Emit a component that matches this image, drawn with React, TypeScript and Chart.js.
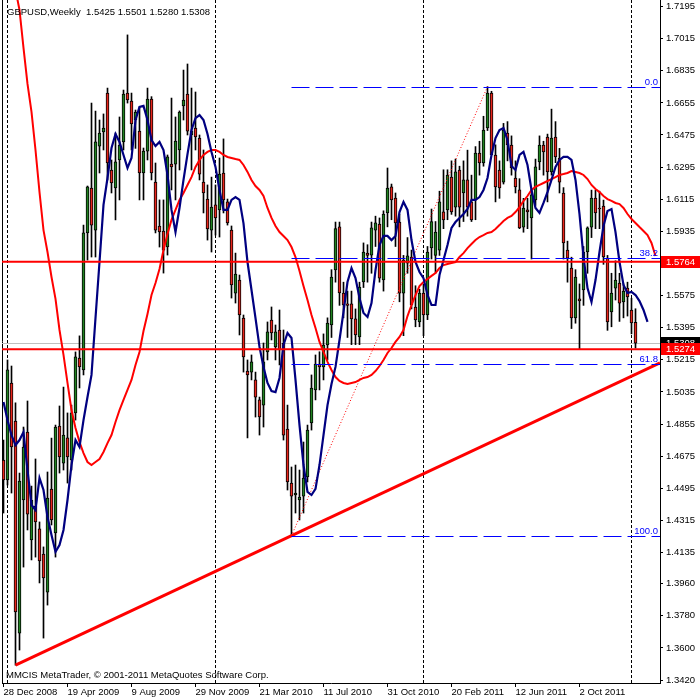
import React, { useEffect, useRef } from 'react';
import { Chart, registerables } from 'chart.js';

Chart.register(...registerables);

// ---- weekly GBPUSD candles, first bar = week of 28 Dec 2008 ----
const opens = [
  1.4653, 1.4541, 1.5085, 1.4872, 1.3683, 1.4429, 1.4810, 1.4205, 1.4395, 1.4267,
  1.4126, 1.3913, 1.4490, 1.4244, 1.4844, 1.4636, 1.4777, 1.4653, 1.4917, 1.5225,
  1.5158, 1.5926, 1.6178, 1.5942, 1.6413, 1.6492, 1.6710, 1.6279, 1.6178, 1.6335,
  1.6436, 1.6710, 1.6665, 1.6560, 1.6497, 1.6262, 1.6385, 1.6677, 1.6211, 1.5965,
  1.5937, 1.5847, 1.6312, 1.6312, 1.6391, 1.6638, 1.6705, 1.6475, 1.6514, 1.6458,
  1.6211, 1.6116, 1.5942, 1.6083, 1.6055, 1.6262, 1.6100, 1.5942, 1.5589, 1.5662,
  1.5449, 1.5152, 1.5146, 1.5102, 1.4990, 1.4961, 1.5259, 1.5438, 1.5287, 1.5382,
  1.5309, 1.4827, 1.4524, 1.4457, 1.4429, 1.4451, 1.4558, 1.4861, 1.5046, 1.5191,
  1.5175, 1.5298, 1.5410, 1.5718, 1.5960, 1.5589, 1.5528, 1.5528, 1.5444, 1.5343,
  1.5651, 1.5813, 1.5802, 1.5942, 1.5976, 1.5662, 1.6038, 1.6184, 1.6122, 1.5987,
  1.5589, 1.5757, 1.5791, 1.5511, 1.5427, 1.5589, 1.5466, 1.5842, 1.5800, 1.5830,
  1.6044, 1.6055, 1.6239, 1.6071, 1.6279, 1.6150, 1.6223, 1.6100, 1.6111, 1.6374,
  1.6318, 1.6514, 1.6710, 1.6363, 1.6279, 1.6211, 1.6486, 1.6419, 1.6234, 1.6167,
  1.5959, 1.6055, 1.6010, 1.6111, 1.6324, 1.6419, 1.6464, 1.6268, 1.6464, 1.6346,
  1.6150, 1.5830, 1.5729, 1.5449, 1.5556, 1.5606, 1.5819, 1.5959, 1.6122, 1.6066,
  1.6077, 1.5785, 1.5483, 1.5617, 1.5645, 1.5539, 1.5617, 1.5494, 1.5425,
];
const highs = [
  1.4765, 1.5214, 1.5180, 1.4973, 1.4580, 1.4838, 1.4984, 1.4507, 1.4659, 1.4306,
  1.4166, 1.4586, 1.4776, 1.4849, 1.4956, 1.5062, 1.4917, 1.4961, 1.5259, 1.5349,
  1.5970, 1.6189, 1.6654, 1.6609, 1.6559, 1.6593, 1.6738, 1.6335, 1.6486, 1.6576,
  1.6727, 1.7036, 1.6710, 1.6615, 1.6632, 1.6402, 1.6738, 1.6690, 1.6318, 1.6111,
  1.6111, 1.6363, 1.6682, 1.6576, 1.6610, 1.6839, 1.6873, 1.6738, 1.6716, 1.6475,
  1.6391, 1.6195, 1.6239, 1.6195, 1.6346, 1.6453, 1.6116, 1.5965, 1.5813, 1.5690,
  1.5466, 1.5214, 1.5242, 1.5146, 1.5006, 1.5309, 1.5427, 1.5511, 1.5410, 1.5494,
  1.5382, 1.4961, 1.4614, 1.4625, 1.4597, 1.4754, 1.4849, 1.5130, 1.5242, 1.5260,
  1.5360, 1.5450, 1.5720, 1.5987, 1.5987, 1.5650, 1.5600, 1.5600, 1.5500, 1.5650,
  1.5870, 1.5860, 1.5987, 1.6020, 1.6010, 1.6050, 1.6290, 1.6200, 1.6150, 1.6030,
  1.5800, 1.5900, 1.5830, 1.5630, 1.5610, 1.5640, 1.5850, 1.6060, 1.5990, 1.6160,
  1.6280, 1.6280, 1.6330, 1.6340, 1.6300, 1.6330, 1.6390, 1.6250, 1.6410, 1.6440,
  1.6580, 1.6746, 1.6720, 1.6420, 1.6330, 1.6540, 1.6550, 1.6470, 1.6330, 1.6230,
  1.6120, 1.6120, 1.6170, 1.6340, 1.6470, 1.6440, 1.6480, 1.6620, 1.6550, 1.6400,
  1.6180, 1.5880, 1.5790, 1.5720, 1.5640, 1.5850, 1.5960, 1.6166, 1.6166, 1.6160,
  1.6110, 1.5800, 1.5700, 1.5770, 1.5700, 1.5640, 1.5650, 1.5560, 1.5501,
];
const lows = [
  1.4356, 1.4513, 1.4468, 1.3503, 1.3588, 1.4053, 1.4261, 1.4093, 1.4109, 1.3964,
  1.3655, 1.3840, 1.4289, 1.4109, 1.4580, 1.4597, 1.4524, 1.4597, 1.4877, 1.5057,
  1.5130, 1.5774, 1.5791, 1.5791, 1.6262, 1.6391, 1.6223, 1.6150, 1.5999, 1.6111,
  1.6391, 1.6654, 1.6391, 1.6400, 1.6111, 1.6111, 1.6335, 1.6223, 1.5926, 1.5847,
  1.5701, 1.5802, 1.6167, 1.6111, 1.6279, 1.6559, 1.6475, 1.6279, 1.6391, 1.6223,
  1.6038, 1.5886, 1.5819, 1.5914, 1.5903, 1.6038, 1.5970, 1.5561, 1.5533, 1.5354,
  1.5146, 1.4777, 1.5102, 1.4894, 1.4793, 1.4838, 1.5214, 1.5326, 1.5214, 1.5186,
  1.4765, 1.4485, 1.4229, 1.4356, 1.4317, 1.4356, 1.4530, 1.4821, 1.4990, 1.5046,
  1.5102, 1.5214, 1.5340, 1.5650, 1.5520, 1.5450, 1.5340, 1.5300, 1.5300, 1.5300,
  1.5620, 1.5650, 1.5700, 1.5850, 1.5650, 1.5600, 1.5960, 1.6000, 1.5850, 1.5540,
  1.5350, 1.5700, 1.5500, 1.5400, 1.5400, 1.5350, 1.5440, 1.5780, 1.5700, 1.5800,
  1.5950, 1.6000, 1.6030, 1.6020, 1.5960, 1.5990, 1.6020, 1.5990, 1.6000, 1.6250,
  1.6300, 1.6500, 1.6380, 1.6100, 1.6120, 1.6200, 1.6330, 1.6250, 1.6150, 1.5950,
  1.5930, 1.5950, 1.5780, 1.6080, 1.6280, 1.6250, 1.6100, 1.6250, 1.6320, 1.6150,
  1.5780, 1.5650, 1.5390, 1.5420, 1.5272, 1.5520, 1.5700, 1.5900, 1.5950, 1.5950,
  1.5750, 1.5380, 1.5400, 1.5550, 1.5430, 1.5450, 1.5460, 1.5360, 1.5280,
];
const closes = [
  1.4541, 1.5158, 1.4726, 1.3801, 1.4535, 1.4726, 1.4350, 1.4429, 1.4306, 1.4087,
  1.3992, 1.4440, 1.4317, 1.4838, 1.4670, 1.4793, 1.4670, 1.4917, 1.5231, 1.5175,
  1.5926, 1.6184, 1.5970, 1.6436, 1.6486, 1.6514, 1.6318, 1.6206, 1.6324, 1.6419,
  1.6705, 1.6671, 1.6537, 1.6604, 1.6262, 1.6385, 1.6677, 1.6262, 1.5942, 1.5931,
  1.5830, 1.6352, 1.6296, 1.6441, 1.6604, 1.6671, 1.6497, 1.6497, 1.6464, 1.6256,
  1.6150, 1.5948, 1.6071, 1.6010, 1.6256, 1.6111, 1.5982, 1.5634, 1.5696, 1.5466,
  1.5231, 1.5130, 1.5203, 1.5006, 1.4894, 1.5203, 1.5371, 1.5365, 1.5371, 1.5270,
  1.4793, 1.4530, 1.4451, 1.4468, 1.4446, 1.4552, 1.4821, 1.5057, 1.5191, 1.5175,
  1.5298, 1.5421, 1.5679, 1.5950, 1.5590, 1.5522, 1.5520, 1.5444, 1.5354, 1.5623,
  1.5819, 1.5800, 1.5954, 1.5982, 1.5673, 1.6032, 1.6178, 1.6111, 1.5982, 1.5589,
  1.5774, 1.5797, 1.5522, 1.5438, 1.5589, 1.5466, 1.5819, 1.5990, 1.5931, 1.6100,
  1.5999, 1.6251, 1.6044, 1.6268, 1.6071, 1.6223, 1.6071, 1.5999, 1.6374, 1.6318,
  1.6503, 1.6710, 1.6363, 1.6184, 1.6178, 1.6503, 1.6419, 1.6290, 1.6184, 1.5954,
  1.6066, 1.6044, 1.6139, 1.6296, 1.6419, 1.6380, 1.6268, 1.6458, 1.6352, 1.6211,
  1.5870, 1.5785, 1.5449, 1.5679, 1.5545, 1.5819, 1.5954, 1.6122, 1.6038, 1.6060,
  1.5791, 1.5427, 1.5589, 1.5662, 1.5533, 1.5600, 1.5567, 1.5421, 1.5308,
];

// ---- moving averages (values read per bar) ----
const fastMaStartBar = 0;
const fastMa = [
  1.4978, 1.4877, 1.4793, 1.4737, 1.4765, 1.4810, 1.4597, 1.4401, 1.4373, 1.4552,
  1.4485, 1.4334, 1.4233, 1.4138, 1.4177, 1.4261, 1.4429, 1.4625, 1.4765, 1.4726,
  1.4877, 1.5006, 1.5130, 1.5449, 1.5763, 1.6083, 1.6234, 1.6402, 1.6481, 1.6436,
  1.6363, 1.6290, 1.6346, 1.6559, 1.6632, 1.6638, 1.6559, 1.6447, 1.6413, 1.6436,
  1.6391, 1.6251, 1.6055, 1.5931, 1.6066, 1.6223, 1.6368, 1.6503, 1.6570, 1.6587,
  1.6559, 1.6481, 1.6380, 1.6296, 1.6167, 1.6055, 1.6055, 1.6111, 1.6127, 1.6111,
  1.5980, 1.5763, 1.5606, 1.5449, 1.5287, 1.5175, 1.5085, 1.5040, 1.5034, 1.5113,
  1.5298, 1.5365, 1.5337, 1.5102, 1.4849, 1.4625, 1.4474, 1.4457, 1.4491, 1.4625,
  1.4793, 1.4961, 1.5079, 1.5175, 1.5326, 1.5483, 1.5651, 1.5729, 1.5673, 1.5561,
  1.5477, 1.5455, 1.5533, 1.5718, 1.5858, 1.5909, 1.5909, 1.5886, 1.5909, 1.6043,
  1.6100, 1.6055, 1.5886, 1.5763, 1.5707, 1.5673, 1.5578, 1.5522, 1.5522, 1.5690,
  1.5774, 1.5858, 1.5954, 1.5987, 1.6010, 1.6032, 1.6060, 1.6111, 1.6111, 1.6127,
  1.6167, 1.6234, 1.6363, 1.6458, 1.6503, 1.6514, 1.6447, 1.6301, 1.6279, 1.6363,
  1.6380, 1.6307, 1.6167, 1.6066, 1.6038, 1.6094, 1.6155, 1.6223, 1.6296, 1.6335,
  1.6352, 1.6352, 1.6335, 1.6223, 1.6032, 1.5791, 1.5617, 1.5539, 1.5662, 1.5819,
  1.5965, 1.6049, 1.6060, 1.5931, 1.5763, 1.5634, 1.5589, 1.5595, 1.5578, 1.5544,
  1.5494, 1.5427,
];
const slowMaStartBar = 3;
const slowMa = [
  1.7290, 1.7176, 1.6963, 1.6761, 1.6604, 1.6391, 1.6155, 1.5942, 1.5819, 1.5679,
  1.5556, 1.5382, 1.5242, 1.5085, 1.4933, 1.4833, 1.4754, 1.4692, 1.4642, 1.4625,
  1.4642, 1.4659, 1.4698, 1.4748, 1.4793, 1.4866, 1.4933, 1.4990, 1.5046, 1.5102,
  1.5186, 1.5259, 1.5376, 1.5472, 1.5578, 1.5645, 1.5724, 1.5830, 1.5920, 1.5999,
  1.6055, 1.6111, 1.6150, 1.6195, 1.6239, 1.6296, 1.6335, 1.6363, 1.6380, 1.6391,
  1.6391, 1.6380, 1.6363, 1.6352, 1.6346, 1.6340, 1.6335, 1.6307, 1.6268, 1.6223,
  1.6189, 1.6167, 1.6133, 1.6066, 1.6010, 1.5965, 1.5931, 1.5909, 1.5886, 1.5847,
  1.5791, 1.5713, 1.5628, 1.5550, 1.5466, 1.5393, 1.5315, 1.5259, 1.5203, 1.5158,
  1.5118, 1.5096, 1.5085, 1.5079, 1.5085, 1.5090, 1.5102, 1.5113, 1.5118, 1.5130,
  1.5152, 1.5180, 1.5214, 1.5253, 1.5281, 1.5315, 1.5343, 1.5382, 1.5460, 1.5522,
  1.5578, 1.5628, 1.5651, 1.5668, 1.5685, 1.5701, 1.5729, 1.5746, 1.5752, 1.5757,
  1.5763, 1.5791, 1.5813, 1.5841, 1.5864, 1.5886, 1.5903, 1.5914, 1.5926, 1.5931,
  1.5948, 1.5970, 1.5993, 1.6010, 1.6021, 1.6043, 1.6071, 1.6105, 1.6133, 1.6167,
  1.6184, 1.6195, 1.6206, 1.6217, 1.6228, 1.6239, 1.6251, 1.6256, 1.6262, 1.6273,
  1.6268, 1.6262, 1.6251, 1.6228, 1.6195, 1.6172, 1.6155, 1.6133, 1.6116, 1.6106,
  1.6094, 1.6088, 1.6066, 1.6032, 1.6004, 1.5982, 1.5959, 1.5937, 1.5914, 1.5870,
  1.5797,
];

// ---- axes ----
const xTickBars = [0, 16, 32, 48, 64, 80, 96, 112, 128, 144];
const xTickLabels = [
  '28 Dec 2008', '19 Apr 2009', '9 Aug 2009', '29 Nov 2009', '21 Mar 2010',
  '11 Jul 2010', '31 Oct 2010', '20 Feb 2011', '12 Jun 2011', '2 Oct 2011',
];
const yTickValues = [
  1.3420, 1.3600, 1.3780, 1.3960, 1.4135, 1.4315, 1.4495, 1.4675, 1.4855, 1.5035,
  1.5215, 1.5395, 1.5575, 1.5755, 1.5935, 1.6115, 1.6295, 1.6475, 1.6655, 1.6835,
  1.7015, 1.7195,
];
const yearStartBars = [1, 53, 105, 157];

// ---- objects ----
const hLevels = [1.5764, 1.5274];
const bidPrice = 1.5308;
const trendBars = [3, 72];
const trendPrices = [1.3503, 1.4229];
const fibBars = [72, 121];
const fibPrices = [1.4229, 1.6746];
const fibLevels = [0, 38.2, 61.8, 100];
const headerSymbol = 'GBPUSD,Weekly';
const headerOhlc = '1.5425 1.5501 1.5280 1.5308';
const copyright = 'MMCIS MetaTrader, \u00a9 2001-2011 MetaQuotes Software Corp.';

const X_MIN = -0.375;
const X_MAX = 164.125;
const Y_MIN = 1.34032;
const Y_MAX = 1.72317;

const FONT = 'Liberation Sans, Arial, sans-serif';
const FONT_SIZE = 9.5;
const GREEN = '#218321';
const RED = '#e8261c';

const fibPrice = (lvl: number) => fibPrices[1] - (lvl / 100) * (fibPrices[1] - fibPrices[0]);

const overlayPlugin = {
  id: 'mtOverlay',
  beforeDatasetsDraw(chart: any) {
    const { ctx, chartArea, scales } = chart;
    const xs = scales.x;
    const ys = scales.y;
    ctx.save();
    ctx.strokeStyle = '#000';
    ctx.lineWidth = 1;
    ctx.setLineDash([3, 2]);
    yearStartBars.forEach((b) => {
      const x = Math.round(xs.getPixelForValue(b) - 0.5) + 0.5;
      ctx.beginPath();
      ctx.moveTo(x, chartArea.top);
      ctx.lineTo(x, chartArea.bottom);
      ctx.stroke();
    });
    ctx.setLineDash([]);
    ctx.beginPath();
    ctx.moveTo(chartArea.left + 0.5, chartArea.top);
    ctx.lineTo(chartArea.left + 0.5, chartArea.bottom);
    ctx.stroke();
    // bid line (crisp, light grey)
    const yb = Math.round(ys.getPixelForValue(bidPrice)) + 0.5;
    ctx.strokeStyle = '#c0c0c0';
    ctx.beginPath();
    ctx.moveTo(chartArea.left, yb);
    ctx.lineTo(chartArea.right, yb);
    ctx.stroke();
    ctx.restore();
  },
  afterDatasetsDraw(chart: any) {
    const { ctx, chartArea, scales } = chart;
    const xs = scales.x;
    const ys = scales.y;
    ctx.save();
    // fibonacci level lines (crisp 1px dashed blue)
    ctx.strokeStyle = '#0000ff';
    ctx.lineWidth = 1;
    ctx.setLineDash([18, 6]);
    const x0 = xs.getPixelForValue(fibBars[0]);
    fibLevels.forEach((l) => {
      const y = Math.round(ys.getPixelForValue(fibPrice(l))) + 0.5;
      ctx.beginPath();
      ctx.moveTo(x0, y);
      ctx.lineTo(chartArea.right, y);
      ctx.stroke();
    });
    ctx.restore();
  },
  afterDraw(chart: any) {
    const { ctx, chartArea, scales } = chart;
    const ys = scales.y;
    ctx.save();
    ctx.font = `${FONT_SIZE}px ${FONT}`;
    // fib level labels
    ctx.fillStyle = '#0000ff';
    ctx.textAlign = 'right';
    ctx.textBaseline = 'alphabetic';
    fibLevels.forEach((l) => {
      const y = Math.round(ys.getPixelForValue(fibPrice(l)));
      ctx.fillText(l.toFixed(1), chartArea.right - 2, y - 2);
    });
    // price boxes on axis
    const box = (price: number, bg: string) => {
      const y = ys.getPixelForValue(price);
      ctx.fillStyle = bg;
      ctx.fillRect(chartArea.right + 1, Math.round(y - 6), 700 - chartArea.right - 1, 12);
      ctx.fillStyle = '#fff';
      ctx.textAlign = 'left';
      ctx.textBaseline = 'middle';
      ctx.fillText(price.toFixed(4), chartArea.right + 6, y + 0.5);
    };
    box(bidPrice, '#000');
    hLevels.forEach((p) => box(p, '#ff0000'));
    // texts
    ctx.fillStyle = '#000';
    ctx.textAlign = 'left';
    ctx.textBaseline = 'alphabetic';
    ctx.fillText(headerSymbol, 7, 15);
    ctx.fillText(headerOhlc, 86, 15);
    ctx.fillText(copyright, 6, 678);
    ctx.restore();
  },
};

export default function App() {
  const ref = useRef<HTMLCanvasElement | null>(null);

  useEffect(() => {
    if (!ref.current) return;
    const idx = opens.map((_, i) => i);
    const slope = (trendPrices[1] - trendPrices[0]) / (trendBars[1] - trendBars[0]);
    const trendEnd = trendPrices[0] + slope * (X_MAX - trendBars[0]);

    const lineBase = { type: 'line', pointRadius: 0, tension: 0, fill: false };
    const datasets: any[] = [
      {
        type: 'bar',
        label: 'wicks',
        data: idx.map((i) => ({ x: i, y: [lows[i], highs[i]] })),
        backgroundColor: '#000',
        borderWidth: 0,
        barThickness: 1,
        maxBarThickness: 1,
        grouped: false,
        order: 11,
      },
      {
        type: 'bar',
        label: 'bodies',
        data: idx.map((i) => ({ x: i, y: [opens[i], closes[i]] })),
        backgroundColor: idx.map((i) => (closes[i] >= opens[i] ? GREEN : RED)),
        borderColor: '#000',
        borderWidth: 1,
        borderSkipped: false,
        barThickness: 3,
        maxBarThickness: 3,
        minBarLength: 1,
        grouped: false,
        order: 10,
      },
      {
        ...lineBase,
        label: 'fib diagonal',
        data: fibBars.map((b, k) => ({ x: b, y: fibPrices[k] })),
        borderColor: '#ff0000',
        borderWidth: 1,
        borderDash: [1, 2],
        order: 5,
      },
      {
        ...lineBase,
        label: 'slow ma',
        data: slowMa.map((v, k) => ({ x: slowMaStartBar + k, y: v })),
        borderColor: '#ff0000',
        borderWidth: 2,
        order: 4,
      },
      {
        ...lineBase,
        label: 'fast ma',
        data: fastMa.map((v, k) => ({ x: fastMaStartBar + k, y: v })),
        borderColor: '#000080',
        borderWidth: 2.2,
        order: 3,
      },
      ...hLevels.map((p) => ({
        ...lineBase,
        label: 'level ' + p,
        data: [{ x: X_MIN, y: p }, { x: X_MAX, y: p }],
        borderColor: '#ff0000',
        borderWidth: 2,
        order: 2,
      })),
      {
        ...lineBase,
        label: 'trend',
        data: [{ x: trendBars[0], y: trendPrices[0] }, { x: X_MAX, y: trendEnd }],
        borderColor: '#ff0000',
        borderWidth: 3,
        order: 1,
      },
    ];

    const chart = new Chart(ref.current, {
      type: 'bar',
      data: { datasets },
      plugins: [overlayPlugin],
      options: {
        animation: false,
        responsive: true,
        maintainAspectRatio: false,
        events: [],
        layout: { padding: { left: 2, top: 0, right: 0, bottom: 0 } },
        plugins: { legend: { display: false }, tooltip: { enabled: false } },
        scales: {
          x: {
            type: 'linear',
            position: 'bottom',
            min: X_MIN,
            max: X_MAX,
            offset: false,
            afterBuildTicks: (s: any) => {
              s.ticks = xTickBars.map((v) => ({ value: v }));
            },
            afterFit: (s: any) => {
              s.height = 17;
              s.paddingLeft = 0;
              s.paddingRight = 0;
            },
            ticks: {
              autoSkip: false,
              maxRotation: 0,
              minRotation: 0,
              align: 'start',
              padding: 0,
              color: '#000',
              font: { family: FONT, size: FONT_SIZE },
              callback: (v: any) => {
                const k = xTickBars.indexOf(Number(v));
                return k >= 0 ? xTickLabels[k] : '';
              },
            },
            grid: { drawOnChartArea: false, drawTicks: true, tickLength: 4, tickColor: '#000', color: '#000', offset: false },
            border: { display: true, color: '#000', width: 1 },
          },
          y: {
            type: 'linear',
            position: 'right',
            min: Y_MIN,
            max: Y_MAX,
            afterBuildTicks: (s: any) => {
              s.ticks = yTickValues.map((v) => ({ value: v }));
            },
            afterFit: (s: any) => {
              s.width = 40;
              s.paddingTop = 0;
              s.paddingBottom = 0;
            },
            ticks: {
              autoSkip: false,
              padding: 3,
              color: '#000',
              font: { family: FONT, size: FONT_SIZE },
              callback: (v: any) => Number(v).toFixed(4),
            },
            grid: { drawOnChartArea: false, drawTicks: true, tickLength: 3, tickColor: '#000', color: '#000' },
            border: { display: true, color: '#000', width: 1 },
          },
        },
      } as any,
    });
    return () => chart.destroy();
  }, []);

  return (
    <div style={{ position: 'absolute', left: 0, top: 0, width: 700, height: 700, background: '#fff' }}>
      <canvas ref={ref} />
    </div>
  );
}
